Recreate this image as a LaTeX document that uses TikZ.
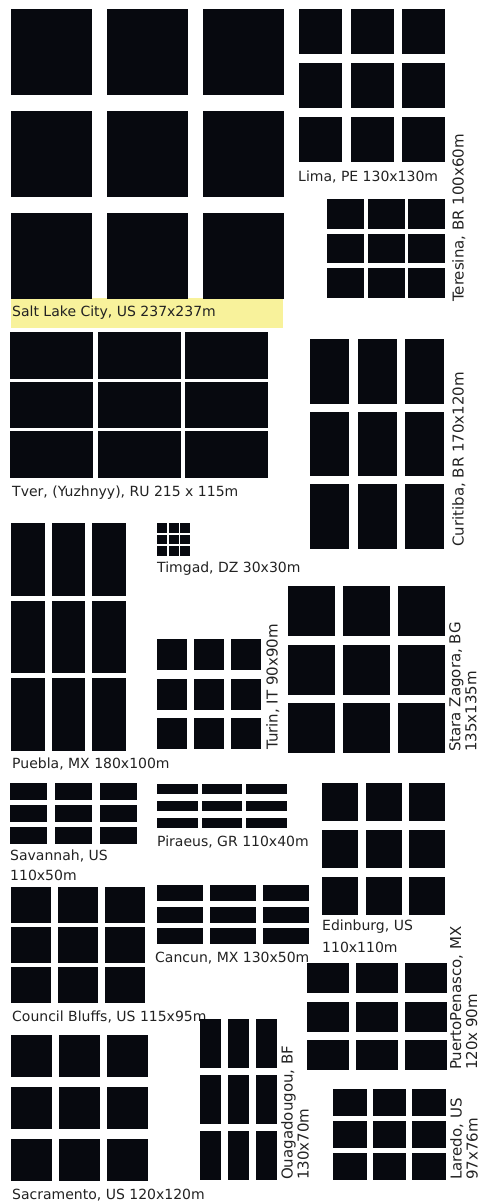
\documentclass[tikz,border=0pt]{standalone}
\usepackage{fontspec}
\setmainfont{DejaVu Sans}
\definecolor{blockink}{HTML}{07090F}
\definecolor{labelgray}{HTML}{222222}
\definecolor{hilite}{HTML}{F8F29B}
\usetikzlibrary{positioning}

\begin{document}
\begin{tikzpicture}[x=1pt, y=-1pt,
  block/.style={fill=blockink},
  cityname/.style={font=\fontsize{14}{20}\selectfont, text=labelgray,
                   inner sep=0pt, anchor=base west, align=left},
  cityside/.style={font=\fontsize{15}{16}\selectfont, text=labelgray,
                   inner sep=0pt, rotate=90, anchor=north west, align=left},
]
\useasboundingbox (0,0) rectangle (485,1201);

% highlighted city
\fill[hilite] (11,298) rectangle (283,328);

% labels
\node[cityname] (saltlake) at (12,316) {Salt Lake City, US 237x237m};
\node[cityname] (lima) at (298,182) {Lima, PE 130x130m};
\node[cityname] (tver) at (12,496) {Tver, (Yuzhnyy), RU 215 x 115m};
\node[cityname] (puebla) at (12,768) {Puebla, MX 180x100m};
\node[cityname] (timgad) at (157,572) {Timgad, DZ 30x30m};
\node[cityname, anchor=north west] (savannah) at (10,850) {Savannah, US\\110x50m};
\node[cityname] (piraeus) at (157,846) {Piraeus, GR 110x40m};
\node[cityname, anchor=north west, font=\fontsize{14}{22}\selectfont] (edinburg) at (322,920) {Edinburg, US\\110x110m};
\node[cityname] (council) at (12,1021) {Council Bluffs, US 115x95m};
\node[cityname] (cancun) at (155,962) {Cancun, MX 130x50m};
\node[cityname] (sacramento) at (12,1199) {Sacramento, US 120x120m};

\node[cityside] (teresina) at (452,302) {Teresina, BR 100x60m};
\node[cityside] (curitiba) at (452,547) {Curitiba, BR 170x120m};
\node[cityside] (turin) at (266,750) {Turin, IT 90x90m};
\node[cityside] (stara) at (449,752) {Stara Zagora, BG\\135x135m};
\node[cityside] (puerto) at (450,1070) {PuertoPenasco, MX\\120x 90m};
\node[cityside] (laredo) at (450,1180) {Laredo, US\\97x76m};
\node[cityside] (ouaga) at (281,1180) {Ouagadougou, BF\\130x70m};

% 3x3 block grids: left/top, block size, pitch
\foreach \gx/\gy/\cw/\ch/\px/\py in {
  11/9/81/86/96/102,          % Salt Lake City
  299/9/43/45/51.5/54,        % Lima
  327/199/37/29.5/40.5/34.5,  % Teresina
  10/332/83/46.5/87.5/49.5,   % Tver
  310/339/39/64.5/47.5/72.5,  % Curitiba
  11/523/33.5/72.5/40.5/77.5, % Puebla
  157/523/10/9.5/11.5/11.5,   % Timgad
  157/639/29.5/31/37/39.5,    % Turin
  288/586/47/50/55/58.5,      % Stara Zagora
  10/783/36.5/16.5/45/22,     % Savannah
  157/784/40.5/10/44.5/17,    % Piraeus
  322/783/36/38/43.5/47,      % Edinburg
  11/887/40/35.5/47/40,       % Council Bluffs
  157/885/46/16/53/21.5,      % Cancun
  307/963/42/30/49/38.5,      % Puerto Penasco
  333/1089/33.5/26.5/39.5/32, % Laredo
  11/1035/40.5/41.5/48/52,    % Sacramento
  200/1019/21/49/28/56%       % Ouagadougou
}{
  \foreach \i in {0,1,2}
    \foreach \j in {0,1,2}
      \fill[block] ({\gx+\i*\px},{\gy+\j*\py}) rectangle ++(\cw,\ch);
}
\end{tikzpicture}
\end{document}
